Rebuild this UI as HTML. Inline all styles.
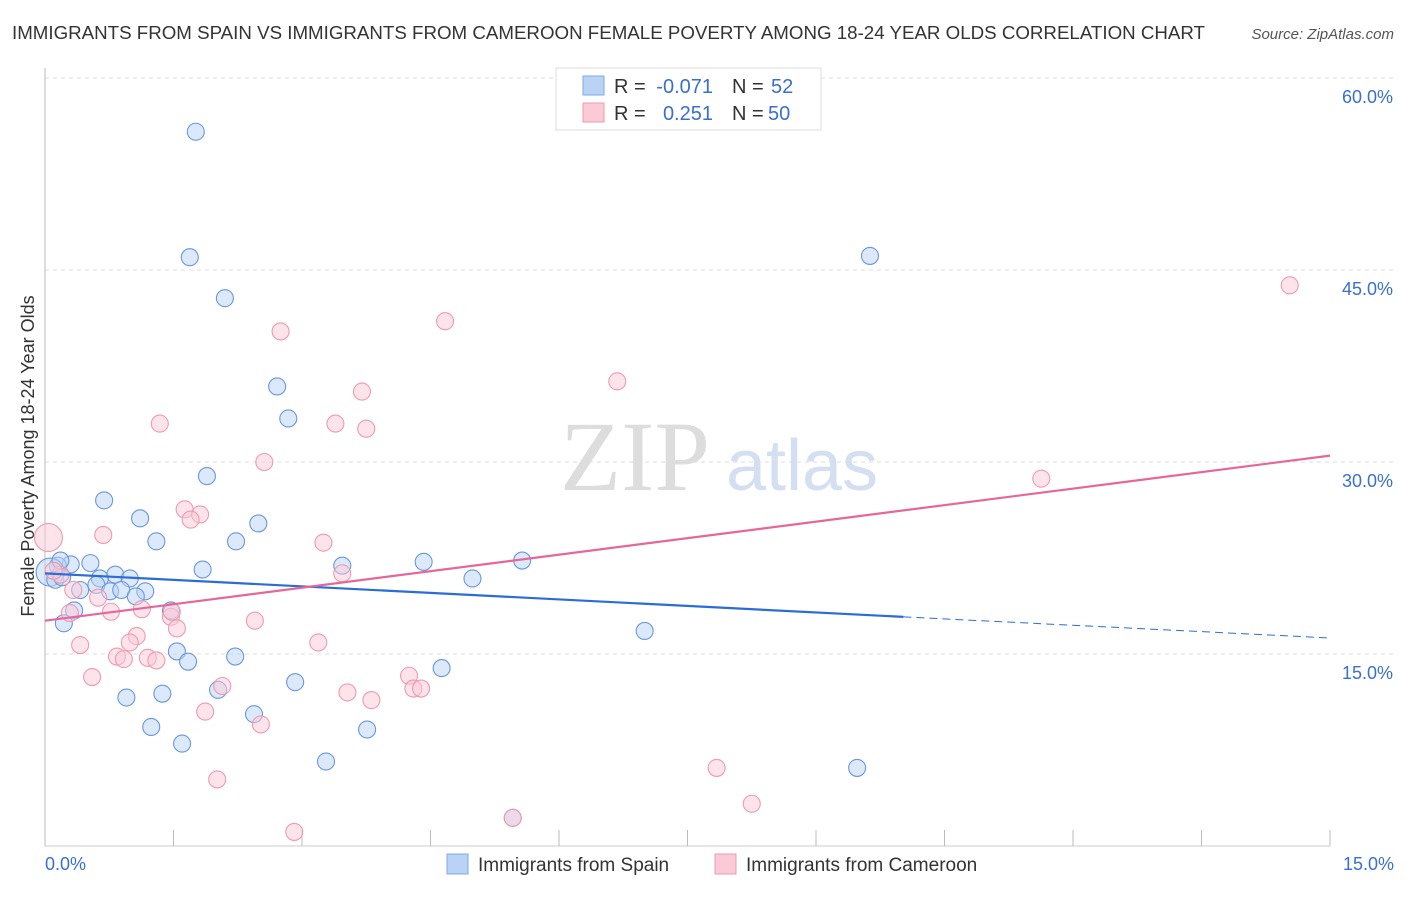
<!DOCTYPE html>
<html><head><meta charset="utf-8"><style>
body{margin:0;background:#fff;font-family:"Liberation Sans",sans-serif;}
</style></head><body>
<svg width="1406" height="892" xmlns="http://www.w3.org/2000/svg" id="chart" font-family="Liberation Sans, sans-serif">
<text x="12" y="39" font-size="18" fill="#333" textLength="1193" lengthAdjust="spacingAndGlyphs">IMMIGRANTS FROM SPAIN VS IMMIGRANTS FROM CAMEROON FEMALE POVERTY AMONG 18-24 YEAR OLDS CORRELATION CHART</text>
<text x="1394" y="39" font-size="15" fill="#555" font-style="italic" text-anchor="end">Source: ZipAtlas.com</text>
<g>
<text x="635" y="490" font-size="100" fill="#ddd" font-family="Liberation Serif, serif" text-anchor="middle">ZIP</text>
<text x="802" y="490" font-size="72" fill="#d4e0f2" text-anchor="middle">atlas</text>
</g>
<text transform="translate(34,456) rotate(-90)" font-size="18" fill="#333" text-anchor="middle">Female Poverty Among 18-24 Year Olds</text>
<g id="grid"></g><g id="axes"></g><g id="pts"></g><g id="lines"></g>
<g>
<rect x="556" y="68" width="265" height="62" fill="#fff" stroke="#ddd"/>
<rect x="583" y="76" width="21" height="19" fill="#b9d3f5" stroke="#7fa9e6"/>
<rect x="583" y="103" width="21" height="19" fill="#fcc9d7" stroke="#ee9ab1"/>
<g font-size="20">
<text x="614" y="93" fill="#333">R =</text><text x="713" y="93" fill="#3a6fd0" text-anchor="end">-0.071</text>
<text x="732" y="93" fill="#333">N =</text><text x="771" y="93" fill="#3a6fd0">52</text>
<text x="614" y="120" fill="#333">R =</text><text x="713" y="120" fill="#3a6fd0" text-anchor="end">0.251</text>
<text x="732" y="120" fill="#333">N =</text><text x="768" y="120" fill="#3a6fd0">50</text>
</g>
</g>
<g>
<rect x="447" y="854" width="21" height="20" fill="#b9d3f5" stroke="#7fa9e6"/>
<text x="478" y="871" font-size="19" fill="#333">Immigrants from Spain</text>
<rect x="715" y="854" width="21" height="20" fill="#fcc9d7" stroke="#ee9ab1"/>
<text x="746" y="871" font-size="19" fill="#333">Immigrants from Cameroon</text>
</g>
</svg>
<script>
const yTicks=[15,30,45,60];
const yTickLabels=["15.0%","30.0%","45.0%","60.0%"];
const xTickLabels=["0.0%","15.0%"];
const spainX=[1.76,1.69,2.10,9.63,2.71,2.84,1.89,0.69,1.11,2.49,1.30,2.23,0.53,0.30,0.15,0.06,1.84,3.47,4.42,5.57,4.99,0.82,0.99,0.64,0.60,0.41,0.76,0.89,1.17,1.06,1.47,0.34,0.22,7.00,1.54,1.67,2.22,4.63,2.92,1.37,0.95,2.02,2.44,1.24,1.60,3.76,3.28,9.48,5.46,0.18,0.12,0.20];
const spainY=[55.8,46.0,42.8,46.1,35.9,33.4,28.9,27.0,25.6,25.2,23.8,23.8,22.1,22.0,21.9,21.4,21.6,21.9,22.2,22.3,20.9,21.2,20.9,20.9,20.4,20.0,19.9,20.0,19.9,19.5,18.4,18.4,17.4,16.8,15.2,14.4,14.8,13.9,12.8,11.9,11.6,12.2,10.3,9.3,8.0,9.1,6.6,6.1,2.2,22.3,20.8,21.0];
const camX=[14.53,2.75,4.67,6.68,3.70,3.39,3.75,1.34,2.56,11.63,1.63,1.81,1.70,0.04,0.68,3.25,3.47,0.18,0.33,0.62,0.29,0.77,1.13,1.47,2.45,1.54,1.07,0.99,0.41,3.19,0.84,0.92,1.20,1.30,0.55,4.25,4.30,4.39,2.07,3.53,3.81,1.87,2.52,7.84,2.01,8.25,2.91,1.48,0.10,5.46];
const camY=[43.8,40.2,41.0,36.3,35.5,33.0,32.6,33.0,30.0,28.7,26.3,25.9,25.5,24.1,24.3,23.7,21.3,21.2,20.0,19.4,18.2,18.3,18.5,17.9,17.6,17.0,16.4,15.9,15.7,15.9,14.8,14.6,14.7,14.5,13.2,13.3,12.3,12.3,12.5,12.0,11.4,10.5,9.5,6.1,5.2,3.3,1.1,18.3,21.5,2.2];
const spainBig=[15];const camBig=[13];
const spainTrend=[21.3,17.9,16.25];const spainTrendX=[0,10.02,15];
const camTrend=[17.6,30.5];const camTrendX=[0,15];
const NS="http://www.w3.org/2000/svg";
const X=v=>45+v/15*1285, Y=v=>846-v/15*192;
function mk(t,a,p){const e=document.createElementNS(NS,t);for(const k in a)e.setAttribute(k,a[k]);document.getElementById(p).appendChild(e);return e;}
yTicks.forEach((t,i)=>{
 const g=mk('line',{x1:45,x2:1394,y1:Y(t),y2:Y(t),stroke:'#ddd','stroke-dasharray':'4,4'},'grid');
 
 
 const l=mk('text',{x:1393,y:Y(t)+25,'font-size':18,fill:'#3a6fd0','text-anchor':'end'},'axes');l.textContent=yTickLabels[i];
 
 
});
const ax=mk('line',{x1:45,x2:45,y1:68,y2:846,stroke:'#bbb'},'axes');


const bx=mk('line',{x1:45,x2:1330,y1:846,y2:846,stroke:'#ccc'},'axes');


for(let i=0;i<=10;i++){const t=mk('line',{x1:X(i*1.5),x2:X(i*1.5),y1:830,y2:846,stroke:'#bbb'},'axes');
 
 }
[[0,'start',45],[1,'end',1394]].forEach(([i,a,x])=>{const l=mk('text',{x:x,y:870,'font-size':18,fill:'#3a6fd0','text-anchor':a},'axes');l.textContent=xTickLabels[i];
 
 });
function pts(xs,ys,big,fill,stroke,name){xs.forEach((x,i)=>{const c=mk('circle',{cx:X(x),cy:Y(ys[i]),r:big.includes(i)?14:8.5,fill:fill,'fill-opacity':0.5,stroke:stroke,'stroke-width':1.1},'pts');
 
 });}
pts(spainX,spainY,spainBig,'#b9d3f5','#6a97dd','spain-point');
pts(camX,camY,camBig,'#fcc9d7','#ee9ab1','cameroon-point');
const s1=mk('line',{x1:X(spainTrendX[0]),y1:Y(spainTrend[0]),x2:X(spainTrendX[1]),y2:Y(spainTrend[1]),stroke:'#2a6dd6','stroke-width':2.2},'lines');


const s2=mk('line',{x1:X(spainTrendX[1]),y1:Y(spainTrend[1]),x2:X(spainTrendX[2]),y2:Y(spainTrend[2]),stroke:'#2a6dd6','stroke-width':1,'stroke-dasharray':'8,5'},'lines');


const c1=mk('line',{x1:X(camTrendX[0]),y1:Y(camTrend[0]),x2:X(camTrendX[1]),y2:Y(camTrend[1]),stroke:'#e5679a','stroke-width':2.2},'lines');


</script>
</body></html>
